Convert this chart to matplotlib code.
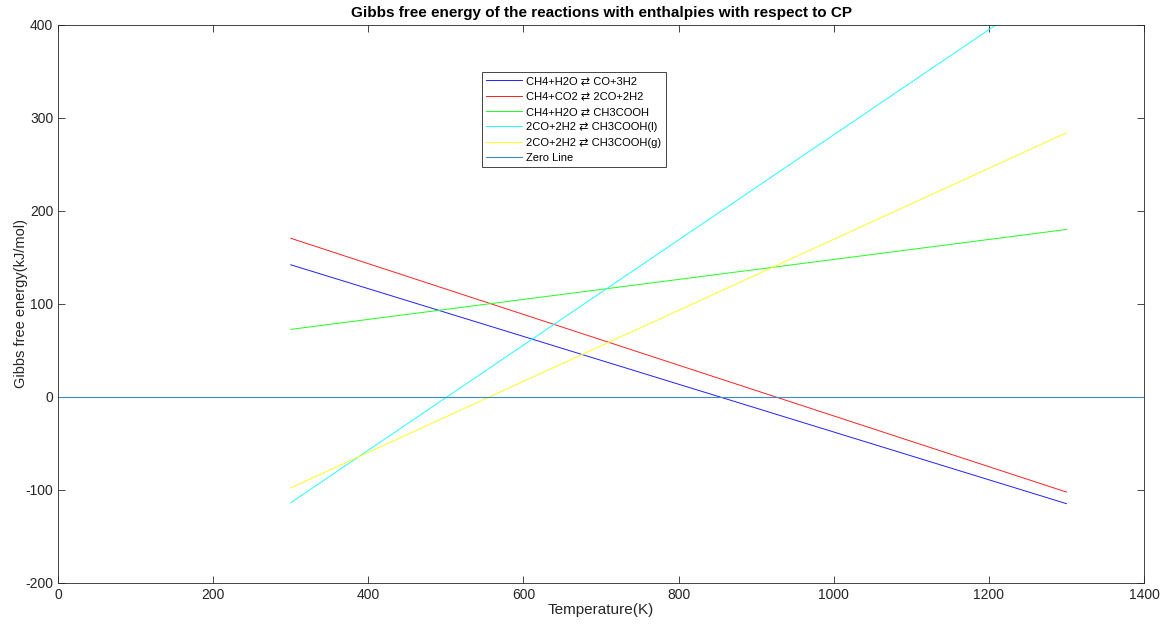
import matplotlib
matplotlib.use("Agg")
import matplotlib.pyplot as plt

plt.rcParams['font.family'] = ['Liberation Sans', 'DejaVu Sans']
plt.rcParams['axes.unicode_minus'] = False

T = [300, 1300]
labels = ["CH4+H2O \u21c4 CO+3H2", "CH4+CO2 \u21c4 2CO+2H2", "CH4+H2O \u21c4 CH3COOH",
          "2CO+2H2 \u21c4 CH3COOH(l)", "2CO+2H2 \u21c4 CH3COOH(g)"]
g_smr = [142, -115]
g_drm = [170.5, -102.5]
g_acid = [72.5, 180]
g_liq = [-114, 451.5]
g_gas = [-98, 284]
series = [g_smr, g_drm, g_acid, g_liq, g_gas]
colors = ['#2020ff', '#ff2020', '#20ff20', '#20ffff', '#ffff20']
zero_x = [0, 1400]
zero_y = [0, 0]

fig = plt.figure(figsize=(11.63, 6.24), dpi=100)
ax = fig.add_axes([0.0499, 0.0662, 0.9338, 0.8938])
for y, c, l in zip(series, colors, labels):
    ax.plot(T, y, color=c, lw=0.7, label=l)
ax.plot(zero_x, zero_y, color='#3d8cc8', lw=0.8, label='Zero Line')

ax.set_xlim(0, 1400)
ax.set_ylim(-200, 400)
ax.set_xticks(range(0, 1401, 200))
ax.set_yticks(range(-200, 401, 100))
ax.tick_params(direction='in', top=True, right=True, labelsize=10, colors='#262626', length=5, width=0.6)
for s in ax.spines.values():
    s.set_color('#262626')
    s.set_linewidth(0.6)
ax.set_xlabel('Temperature(K)', fontsize=11, color='#262626', labelpad=1)
ax.set_ylabel('Gibbs free energy(kJ/mol)', fontsize=10.5, color='#262626', labelpad=-2)
ax.set_title('Gibbs free energy of the reactions with enthalpies with respect to CP',
             fontsize=11, fontweight='bold', pad=6)
leg = ax.legend(loc='upper left', bbox_to_anchor=(0.390, 0.916), fontsize=8,
                fancybox=False, framealpha=1, edgecolor='#262626', borderpad=0.4,
                labelspacing=0.48, handlelength=3.2, handletextpad=0.4, borderaxespad=0)
leg.get_frame().set_linewidth(0.6)
fig.savefig('out.png', dpi=100)
